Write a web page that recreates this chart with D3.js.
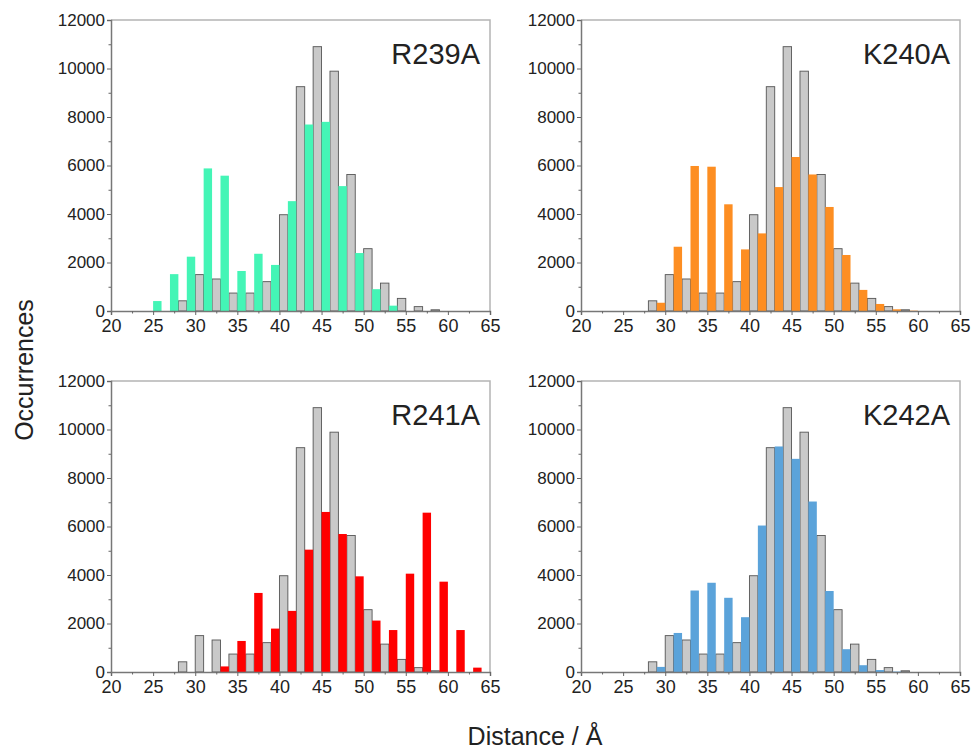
<!DOCTYPE html>
<html>
<head>
<meta charset="utf-8">
<script src="https://cdn.jsdelivr.net/npm/d3@7"></script>
<style>
  body { margin: 0; background: #fff; }
  svg text { font-family: Arial, "Liberation Sans", sans-serif; fill: #222; }
</style>
</head>
<body>
<div id="chart"></div>
<script>
// bin starts (Å) and counts
var grayBins = [28, 30, 32, 34, 36, 38, 40, 42, 44, 46, 48, 50, 52, 54, 56, 58];
var grayCounts = [420, 1500, 1320, 740, 740, 1210, 3970, 9250, 10900, 9890, 5630, 2570, 1150, 520, 180, 50];

var r239Bins = [25, 27, 29, 31, 33, 35, 37, 39, 41, 43, 45, 47, 49, 51, 53];
var r239Counts = [410, 1520, 2240, 5880, 5580, 1650, 2360, 1900, 4530, 7690, 7800, 5150, 2390, 900, 220];

var k240Bins = [29, 31, 33, 35, 37, 39, 41, 43, 45, 47, 49, 51, 53, 55, 57, 59];
var k240Counts = [340, 2650, 5980, 5950, 4400, 2540, 3200, 5110, 6350, 5630, 4290, 2310, 870, 290, 70, 15];

var r241Bins = [33, 35, 37, 39, 41, 43, 45, 47, 49, 51, 53, 55, 57, 59, 61, 63];
var r241Counts = [230, 1280, 3260, 1790, 2520, 5045, 6600, 5690, 3945, 2120, 1730, 4055, 6570, 3725, 1730, 180];

var k242Bins = [29, 31, 33, 35, 37, 39, 41, 43, 45, 47, 49, 51, 53, 55, 57];
var k242Counts = [210, 1610, 3360, 3680, 3060, 2260, 6040, 9300, 8790, 7030, 3340, 940, 280, 80, 20];

var xTicks = [20, 25, 30, 35, 40, 45, 50, 55, 60, 65];
var yTicks = [0, 2000, 4000, 6000, 8000, 10000, 12000];

var panels = [
  { name: "R239A", bins: r239Bins, counts: r239Counts, color: "#44f5b6", x0: 111, y0: 20 },
  { name: "K240A", bins: k240Bins, counts: k240Counts, color: "#fd8e22", x0: 581, y0: 20 },
  { name: "R241A", bins: r241Bins, counts: r241Counts, color: "#ff0000", x0: 111, y0: 381 },
  { name: "K242A", bins: k242Bins, counts: k242Counts, color: "#5ba3da", x0: 581, y0: 381 }
];

var width = 977, height = 752,
    pw = 379, ph = 291;

var svg = d3.select("#chart").append("svg")
    .attr("width", width)
    .attr("height", height);

function zip(bins, counts) {
  return bins.map(function(b, i) { return { start: b, n: counts[i] }; });
}

panels.forEach(function(p) {
  var g = svg.append("g").attr("transform", "translate(" + p.x0 + "," + p.y0 + ")");

  var x = d3.scaleLinear().domain([20, 65]).range([0, pw]);
  var y = d3.scaleLinear().domain([0, 12000]).range([ph, 0]);

  // frame (top / right)
  g.append("path")
    .attr("d", "M0,0H" + pw + "V" + ph)
    .attr("fill", "none")
    .attr("stroke", "#b4b4b4")
    .attr("stroke-width", 1.5);

  // reference (gray) bars
  g.selectAll(".ref")
      .data(zip(grayBins, grayCounts))
    .enter().append("rect")
      .attr("class", "ref")
      .attr("x", function(d) { return x(d.start); })
      .attr("width", function(d) { return x(d.start + 1) - x(d.start); })
      .attr("y", function(d) { return y(d.n); })
      .attr("height", function(d) { return ph - y(d.n); })
      .attr("fill", "#c9c9c9")
      .attr("stroke", "#555")
      .attr("stroke-width", 0.9);

  // mutant bars
  g.selectAll(".mut")
      .data(zip(p.bins, p.counts))
    .enter().append("rect")
      .attr("class", "mut")
      .attr("x", function(d) { return x(d.start); })
      .attr("width", function(d) { return x(d.start + 1) - x(d.start); })
      .attr("y", function(d) { return y(d.n); })
      .attr("height", function(d) { return ph - y(d.n); })
      .attr("fill", p.color);

  // axes
  var xAxis = g.append("g").attr("transform", "translate(0," + ph + ")")
    .call(d3.axisBottom(x).tickValues(xTicks).tickSize(4).tickPadding(4).tickFormat(d3.format("d")));
  g.append("g").attr("transform", "translate(0," + ph + ")")
    .call(d3.axisBottom(x).tickValues(d3.range(22.5, 65, 5)).tickSize(2.5).tickFormat(""))
    .select(".domain").remove();

  var yAxis = g.append("g")
    .call(d3.axisLeft(y).tickValues(yTicks).tickSize(4).tickPadding(2).tickFormat(d3.format("d")));
  g.append("g")
    .call(d3.axisLeft(y).tickValues(d3.range(1000, 12000, 2000)).tickSize(2.5).tickFormat(""))
    .select(".domain").remove();

  g.selectAll(".domain").attr("stroke", "#777").attr("stroke-width", 1.5);
  g.selectAll(".tick line").attr("stroke", "#666");
  xAxis.selectAll("text").style("font-size", "18px").attr("fill", "#222");
  yAxis.selectAll("text").style("font-size", "17px").attr("fill", "#222");

  g.append("text")
    .attr("x", pw - 10)
    .attr("y", 44)
    .attr("text-anchor", "end")
    .style("font-size", "29px")
    .text(p.name);
});

svg.append("text")
  .attr("transform", "translate(33,370) rotate(-90)")
  .attr("text-anchor", "middle")
  .style("font-size", "25px")
  .text("Occurrences");

svg.append("text")
  .attr("x", 535)
  .attr("y", 745)
  .attr("text-anchor", "middle")
  .style("font-size", "25px")
  .text("Distance / Å");
</script>
</body>
</html>
